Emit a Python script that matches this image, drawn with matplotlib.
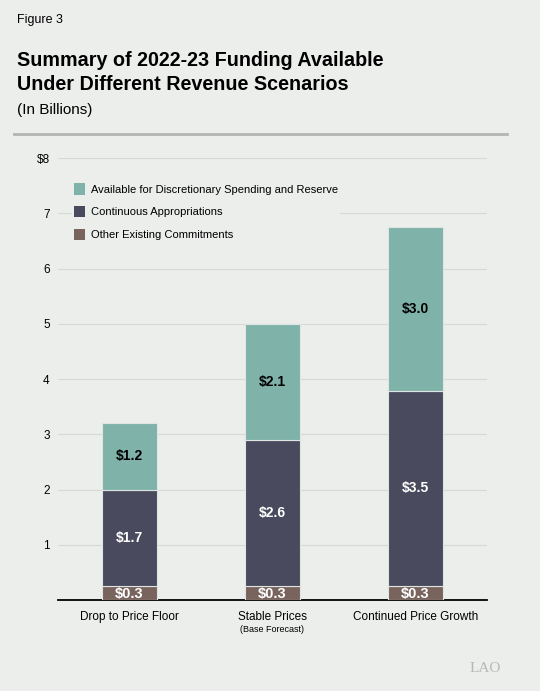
import matplotlib
matplotlib.use("Agg")
import matplotlib.pyplot as plt
import numpy as np

plt.rcParams['font.family'] = ['Liberation Sans', 'DejaVu Sans']

# data (billions)
scenarios = ["Drop to Price Floor", "Stable Prices", "Continued Price Growth"]
sub_labels = ["", "(Base Forecast)", ""]
other_commitments = [0.26, 0.26, 0.26]
continuous_approps = [1.74, 2.64, 3.53]
available = [1.2, 2.1, 2.96]
series_names = ["Other Existing Commitments", "Continuous Appropriations",
                "Available for Discretionary Spending and Reserve"]
y_ticks = [1, 2, 3, 4, 5, 6, 7, 8]
y_ticklabels = ["1", "2", "3", "4", "5", "6", "7", "$8"]

bg = '#eceeec'
c_other = '#78635d'
c_cont = '#4a4a5e'
c_avail = '#7fb3aa'

fig = plt.figure(figsize=(5.4, 6.91), dpi=100, facecolor=bg)

# header
fig.text(17/540, 1 - 20/691, "Figure 3", fontsize=9, va='center', ha='left')
fig.text(17/540, 1 - 60/691, "Summary of 2022-23 Funding Available", fontsize=14.2,
         fontweight='bold', va='center', ha='left')
fig.text(17/540, 1 - 84/691, "Under Different Revenue Scenarios", fontsize=14.2,
         fontweight='bold', va='center', ha='left')
fig.text(17/540, 1 - 110/691, "(In Billions)", fontsize=11, va='center', ha='left')
fig.add_artist(plt.Line2D([14/540, 507/540], [1 - 134/691, 1 - 134/691],
                          color='#b4b4b4', lw=2, transform=fig.transFigure))

ax = fig.add_axes([58/540, 1 - 600/691, 429/540, 442/691])
ax.set_facecolor(bg)

x = np.arange(len(scenarios))
w = 0.39
other = np.array(other_commitments)
cont = np.array(continuous_approps)
avail = np.array(available)

edge = dict(edgecolor='#dfe5e2', linewidth=0.8, zorder=3)
b1 = ax.bar(x, other, w, color=c_other, label=series_names[0], **edge)
b2 = ax.bar(x, cont, w, bottom=other, color=c_cont, label=series_names[1], **edge)
b3 = ax.bar(x, avail, w, bottom=other + cont, color=c_avail, label=series_names[2], **edge)

for i in range(len(x)):
    ax.text(x[i], other[i] / 2 - 0.02, f"${other[i]:.1f}", ha='center', va='center',
            color='white', fontsize=10.5, fontweight='bold', zorder=4)
    ax.text(x[i], other[i] + cont[i] / 2, f"${cont[i]:.1f}", ha='center', va='center',
            color='white', fontsize=10, fontweight='bold', zorder=4)
    ax.text(x[i], other[i] + cont[i] + avail[i] / 2, f"${avail[i]:.1f}", ha='center',
            va='center', color='black', fontsize=10, fontweight='bold', zorder=4)

ax.set_xlim(-0.5, 2.5)
ax.set_ylim(0, 8)
ax.set_yticks(y_ticks)
ax.set_yticklabels(y_ticklabels, fontsize=8.5)
ax.grid(axis='y', color='#d6d9d6', lw=0.8, zorder=0)
ax.set_axisbelow(True)
ax.tick_params(axis='y', length=0, pad=6)
ax.tick_params(axis='x', length=0, pad=8)
ax.set_xticks(x)
ax.set_xticklabels(scenarios, fontsize=8.5)
for i, s in enumerate(sub_labels):
    if s:
        ax.annotate(s, xy=(x[i], 0), xycoords=('data', 'axes fraction'),
                    xytext=(0, -21.5), textcoords='offset points',
                    ha='center', va='center', fontsize=6.5)
for sp in ['top', 'right', 'left']:
    ax.spines[sp].set_visible(False)
ax.spines['bottom'].set_color('black')
ax.spines['bottom'].set_linewidth(1.3)

handles = [b3, b2, b1]
leg = ax.legend(handles, [h.get_label() for h in handles], loc='upper left',
                bbox_to_anchor=(0.02, 0.96), fontsize=8, frameon=True,
                facecolor=bg, edgecolor='none', framealpha=1,
                handlelength=1.0, handleheight=1.2, handletextpad=0.5,
                labelspacing=1.0, borderpad=0.2, fancybox=False)
for p in leg.get_patches():
    p.set_edgecolor('none')

fig.text(485/540, 1 - 668/691, "LAO", fontsize=11, color='#b8b8b8',
         family=['Liberation Serif', 'DejaVu Serif'], ha='center', va='center')

fig.savefig("out.png", dpi=100, facecolor=bg)
